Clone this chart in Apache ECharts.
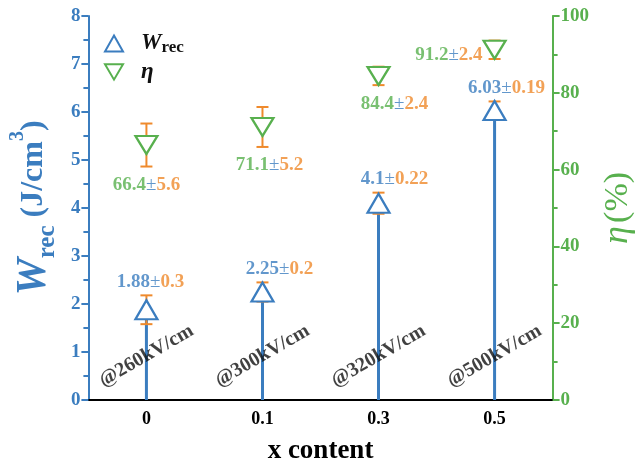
<!DOCTYPE html>
<html><head><meta charset="utf-8">
<script src="https://cdn.jsdelivr.net/npm/echarts@6/dist/echarts.min.js"></script>
<style>html,body{margin:0;padding:0;background:#fff}#c{width:644px;height:470px}</style>
</head><body><div id="c"></div>
<script>
// ---- data ----
const categories = ['0', '0.1', '0.3', '0.5'];
const wrec = [1.88, 2.25, 4.1, 6.03];
const wrecErr = [0.3, 0.2, 0.22, 0.19];
const eta = [66.4, 71.1, 84.4, 91.2];
const etaErr = [5.6, 5.2, 2.4, 2.4];
const fieldLabels = ['@260kV/cm', '@300kV/cm', '@320kV/cm', '@500kV/cm'];
const leftTicks = [0, 1, 2, 3, 4, 5, 6, 7, 8];
const rightTicks = [0, 20, 40, 60, 80, 100];

// ---- layout / style ----
const FONT = "'Liberation Serif', serif";
const BLUE = '#3b7dbf';
const GREEN = '#58b04e';
const ORANGE = '#ef8a2c';
const wLabelDx = [4, 17, 16, 12];
const etaLabelDx = [0, 7, 16, 0];
const DOWN_TRI = 'path://M0,0 L20,0 L10,17 Z';

function errRender(params, api) {
  const x = api.value(0), lo = api.value(1), hi = api.value(2);
  const p1 = api.coord([x, hi]), p2 = api.coord([x, lo]);
  const hw = 6;
  const st = { stroke: ORANGE, lineWidth: 2 };
  return { type: 'group', children: [
    { type: 'line', shape: { x1: p1[0], y1: p1[1], x2: p2[0], y2: p2[1] }, style: st },
    { type: 'line', shape: { x1: p1[0] - hw, y1: p1[1], x2: p1[0] + hw, y2: p1[1] }, style: st },
    { type: 'line', shape: { x1: p2[0] - hw, y1: p2[1], x2: p2[0] + hw, y2: p2[1] }, style: st }
  ]};
}

const labelRich = {
  b: { color: BLUE, fontFamily: FONT, fontWeight: 'bold', fontSize: 19 },
  g: { color: GREEN, fontFamily: FONT, fontWeight: 'bold', fontSize: 19 },
  pm: { color: BLUE, fontFamily: FONT, fontSize: 19 },
  o: { color: ORANGE, fontFamily: FONT, fontWeight: 'bold', fontSize: 19 }
};

const chart = echarts.init(document.getElementById('c'), null, { renderer: 'canvas' });
chart.setOption({
  animation: false,
  backgroundColor: '#fff',
  grid: { left: 85, right: 79, top: 16, bottom: 68 },
  legend: {
    data: ['Wrec', 'eta'],
    orient: 'vertical', left: 99, top: 27,
    itemWidth: 18, itemHeight: 16, itemGap: 4,
    formatter: function (n) { return n === 'Wrec' ? '{w|W}{s|rec}' : '{e|η}'; },
    textStyle: {
      rich: {
        w: { fontFamily: FONT, fontWeight: 'bold', fontStyle: 'italic', fontSize: 23, color: '#111', padding: [0, 0, 0, 13], lineHeight: 26 },
        s: { fontFamily: FONT, fontWeight: 'bold', fontSize: 17, color: '#111', verticalAlign: 'bottom', lineHeight: 26, padding: [7, 0, 0, 0] },
        e: { fontFamily: FONT, fontWeight: 'bold', fontStyle: 'italic', fontSize: 23, color: '#111', padding: [0, 0, 0, 13], lineHeight: 26 }
      }
    }
  },
  xAxis: [{
    type: 'category', data: categories, position: 'bottom',
    axisLine: { lineStyle: { color: '#000', width: 2 } },
    axisTick: { show: false },
    axisLabel: { color: '#000', fontFamily: FONT, fontWeight: 'bold', fontSize: 18, margin: 10 },
    name: 'x content', nameLocation: 'middle', nameGap: 38,
    nameTextStyle: { color: '#000', fontFamily: FONT, fontWeight: 'bold', fontSize: 27 }
  }, {
    type: 'category', data: categories, position: 'top',
    axisLine: { lineStyle: { color: '#000', width: 2 } },
    axisTick: { show: false }, axisLabel: { show: false }
  }],
  yAxis: [{
    type: 'value', position: 'left',
    min: leftTicks[0], max: leftTicks[leftTicks.length - 1], interval: leftTicks[1] - leftTicks[0],
    axisLine: { show: true, lineStyle: { color: BLUE, width: 2 } },
    axisTick: { show: true, length: 7, lineStyle: { color: BLUE, width: 2 } },
    minorTick: { show: true, splitNumber: 2, length: 5, lineStyle: { color: BLUE, width: 2 } },
    splitLine: { show: false },
    axisLabel: { color: BLUE, fontFamily: FONT, fontWeight: 'bold', fontSize: 19, margin: 8 },
    name: '{w|W}{s|rec}{u| (J/cm}{sup|3}{u|)}', nameLocation: 'middle', nameGap: 20, nameRotate: 90,
    nameTextStyle: {
      rich: {
        w: { color: BLUE, fontFamily: FONT, fontWeight: 'bold', fontStyle: 'italic', fontSize: 42, lineHeight: 48 },
        s: { color: BLUE, fontFamily: FONT, fontWeight: 'bold', fontSize: 25, lineHeight: 52, verticalAlign: 'bottom' },
        u: { color: BLUE, fontFamily: FONT, fontWeight: 'bold', fontSize: 32, lineHeight: 48 },
        sup: { color: BLUE, fontFamily: FONT, fontWeight: 'bold', fontSize: 20, lineHeight: 50, verticalAlign: 'top' }
      }
    }
  }, {
    type: 'value', position: 'right',
    min: rightTicks[0], max: rightTicks[rightTicks.length - 1], interval: rightTicks[1] - rightTicks[0],
    axisLine: { show: true, lineStyle: { color: GREEN, width: 2 } },
    axisTick: { show: true, length: 7, lineStyle: { color: GREEN, width: 2 } },
    minorTick: { show: true, splitNumber: 2, length: 5, lineStyle: { color: GREEN, width: 2 } },
    splitLine: { show: false },
    axisLabel: { color: GREEN, fontFamily: FONT, fontWeight: 'bold', fontSize: 19, margin: 8 },
    name: '{e|η} {p|(%)}', nameLocation: 'middle', nameGap: 44, nameRotate: 90,
    nameTextStyle: {
      rich: {
        e: { color: GREEN, fontFamily: FONT, fontStyle: 'italic', fontSize: 36 },
        p: { color: GREEN, fontFamily: FONT, fontSize: 34 }
      }
    }
  }],
  series: [
    {
      type: 'bar', data: wrec, barWidth: 3, itemStyle: { color: BLUE }, silent: true, z: 1
    },
    {
      type: 'custom', yAxisIndex: 0, renderItem: errRender, z: 2, silent: true,
      encode: { x: 0, y: [1, 2] },
      data: categories.map((c, i) => [i, wrec[i] - wrecErr[i], wrec[i] + wrecErr[i]])
    },
    {
      type: 'custom', yAxisIndex: 1, renderItem: errRender, z: 2, silent: true,
      encode: { x: 0, y: [1, 2] },
      data: categories.map((c, i) => [i, eta[i] - etaErr[i], eta[i] + etaErr[i]])
    },
    {
      name: 'Wrec', type: 'scatter', yAxisIndex: 0, z: 3,
      symbol: 'triangle', symbolSize: [22, 19],
      itemStyle: { color: '#fff', borderColor: BLUE, borderWidth: 2.2, opacity: 1 },
      data: categories.map((c, i) => [i, wrec[i]])
    },
    {
      name: 'eta', type: 'scatter', yAxisIndex: 1, z: 3,
      symbol: DOWN_TRI, symbolSize: [22, 18],
      itemStyle: { color: '#fff', borderColor: GREEN, borderWidth: 2.2, opacity: 1 },
      data: categories.map((c, i) => [i, eta[i]])
    },
    {
      type: 'scatter', yAxisIndex: 0, symbolSize: 0, silent: true, z: 4,
      data: categories.map((c, i) => ({
        value: [i, wrec[i] + wrecErr[i]],
        label: { offset: [wLabelDx[i], 0] }
      })),
      label: {
        show: true, position: 'top', distance: 4,
        formatter: p => '{b|' + wrec[p.dataIndex] + '}{pm|±}{o|' + wrecErr[p.dataIndex] + '}',
        rich: labelRich
      }
    },
    {
      type: 'scatter', yAxisIndex: 1, symbolSize: 0, silent: true, z: 4,
      data: categories.map((c, i) => i < categories.length - 1 ? ({
        value: [i, eta[i] - etaErr[i]],
        label: { position: 'bottom', distance: 9, offset: [etaLabelDx[i], 0] }
      }) : ({
        value: [i, eta[i]],
        label: { position: 'left', distance: 12, offset: [0, 5] }
      })),
      label: {
        show: true,
        formatter: p => '{g|' + eta[p.dataIndex] + '}{pm|±}{o|' + etaErr[p.dataIndex] + '}',
        rich: labelRich
      }
    },
    {
      type: 'scatter', yAxisIndex: 0, symbolSize: 0, silent: true, z: 5,
      data: categories.map((c, i) => [i, 0.92]),
      label: {
        show: true, position: [0, 0], align: 'center', verticalAlign: 'middle', rotate: 30,
        formatter: p => fieldLabels[p.dataIndex],
        color: '#111', fontFamily: FONT, fontWeight: 'bold', fontSize: 20
      }
    }
  ]
});
</script>
</body></html>
